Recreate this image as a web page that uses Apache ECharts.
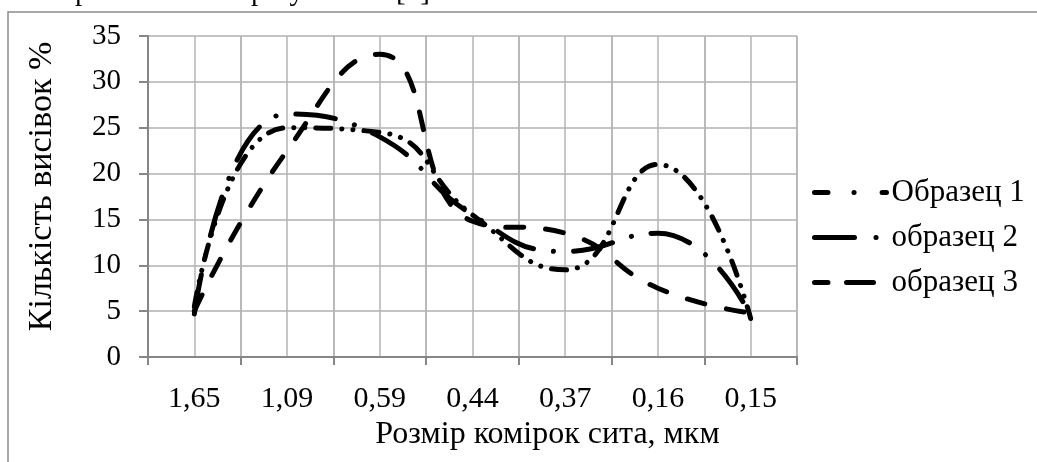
<!DOCTYPE html>
<html>
<head>
<meta charset="utf-8">
<script src="https://cdn.jsdelivr.net/npm/echarts@6/dist/echarts.min.js"></script>
<style>
html,body{margin:0;padding:0;background:#fff;}
#chart{width:1037px;height:462px;}
</style>
</head>
<body>
<div id="chart"></div>
<script>
// ---- data ----
const categories = ['1,65', '1,09', '0,59', '0,44', '0,37', '0,16', '0,15'];
const seriesNames = ['Образец 1', 'образец 2', 'образец 3'];
const sample1 = [5.5, 25, 24.5, 15.5, 9.5, 21, 4.2];
const sample2 = [4.7, 26.5, 24, 15.5, 11.5, 13.5, 4.5];
const sample3 = [5, 22.5, 33, 14.8, 13.5, 7.5, 4.8];
const yTicks = [0, 5, 10, 15, 20, 25, 30, 35];
const xTitle = 'Розмір комірок сита, мкм';
const yTitle = 'Кількість висівок %';
const headerText = 'і не отримали таких результатів [5].';

const FONT = "'Liberation Serif', 'Times New Roman', serif";
const dashes = [
  [15, 11, 0.1, 11, 0.1, 11],
  [40, 20, 0.1, 20],
  [18, 22]
];
const legendDashes = [
  [13.5, 26, 0.1, 28],
  [40, 21.5, 0.1, 30],
  [13.5, 18.5, 27, 20]
];
const values = [sample1, sample2, sample3];

const chart = echarts.init(document.getElementById('chart'), null, {renderer: 'canvas'});
chart.setOption({
  animation: false,
  backgroundColor: '#ffffff',
  textStyle: {fontFamily: FONT},
  graphic: [
    {type: 'rect', z: -10, silent: true,
     shape: {x: 8, y: 12, width: 1100, height: 500},
     style: {fill: 'none', stroke: '#8c8c8c', lineWidth: 1.5}},
    {type: 'text', left: -3, top: -22, silent: true,
     style: {text: headerText, font: "29px " + FONT, fill: '#000'}}
  ],
  grid: {left: 148, right: 240, top: 36, bottom: 105, containLabel: false},
  legend: {
    orient: 'vertical',
    left: 807,
    top: 172,
    itemWidth: 72,
    itemHeight: 14,
    itemGap: 14,
    textStyle: {fontFamily: FONT, fontSize: 31, color: '#000'},
    itemStyle: {color: 'rgba(0,0,0,0)', borderWidth: 0, opacity: 0},
    lineStyle: {width: 5, cap: 'round', color: '#000'},
    data: seriesNames.map((n, i) => ({
      name: n,
      itemStyle: {color: 'rgba(0,0,0,0)', borderWidth: 0, opacity: 0},
      lineStyle: {type: legendDashes[i], width: 5, cap: 'round', color: '#000', opacity: 1}
    }))
  },
  xAxis: [
    {
      type: 'category',
      data: categories,
      boundaryGap: true,
      axisLine: {lineStyle: {color: '#868686', width: 2}},
      axisTick: {show: true, inside: false, length: 8, interval: 0, lineStyle: {color: '#868686', width: 2}},
      axisLabel: {fontFamily: FONT, fontSize: 30, color: '#000', margin: 27, interval: 0},
      splitLine: {show: true, interval: 0, lineStyle: {color: '#b5b5b5', width: 1.5}},
      name: xTitle,
      nameLocation: 'middle',
      nameGap: 62,
      nameTextStyle: {fontFamily: FONT, fontSize: 32, color: '#000', padding: [0, 0, 0, 150]}
    },
    {
      type: 'value',
      min: 0, max: categories.length, interval: 0.5,
      show: true,
      axisLine: {show: false},
      axisTick: {show: false},
      axisLabel: {show: false},
      splitLine: {show: true, lineStyle: {color: '#b5b5b5', width: 1.5}}
    }
  ],
  yAxis: {
    type: 'value',
    min: yTicks[0], max: yTicks[yTicks.length - 1], interval: 5,
    axisLine: {show: true, lineStyle: {color: '#868686', width: 2}},
    axisTick: {show: true, inside: false, length: 9, lineStyle: {color: '#868686', width: 2}},
    axisLabel: {fontFamily: FONT, fontSize: 29, color: '#000', margin: 27},
    splitLine: {show: true, lineStyle: {color: '#b0b0b0', width: 1.5}},
    name: yTitle,
    nameLocation: 'middle',
    nameRotate: 90,
    nameGap: 89,
    nameTextStyle: {fontFamily: FONT, fontSize: 34, color: '#000', padding: [0, 0, 0, 20]}
  },
  series: values.map((v, i) => ({
    name: seriesNames[i],
    type: 'line',
    xAxisIndex: 0,
    data: v,
    smooth: 0.5,
    symbol: 'none',
    legendIcon: 'none',
    lineStyle: {color: '#000', width: 5, type: dashes[i], cap: 'round'},
    itemStyle: {color: '#000'},
    z: 5
  }))
});
</script>
</body>
</html>
